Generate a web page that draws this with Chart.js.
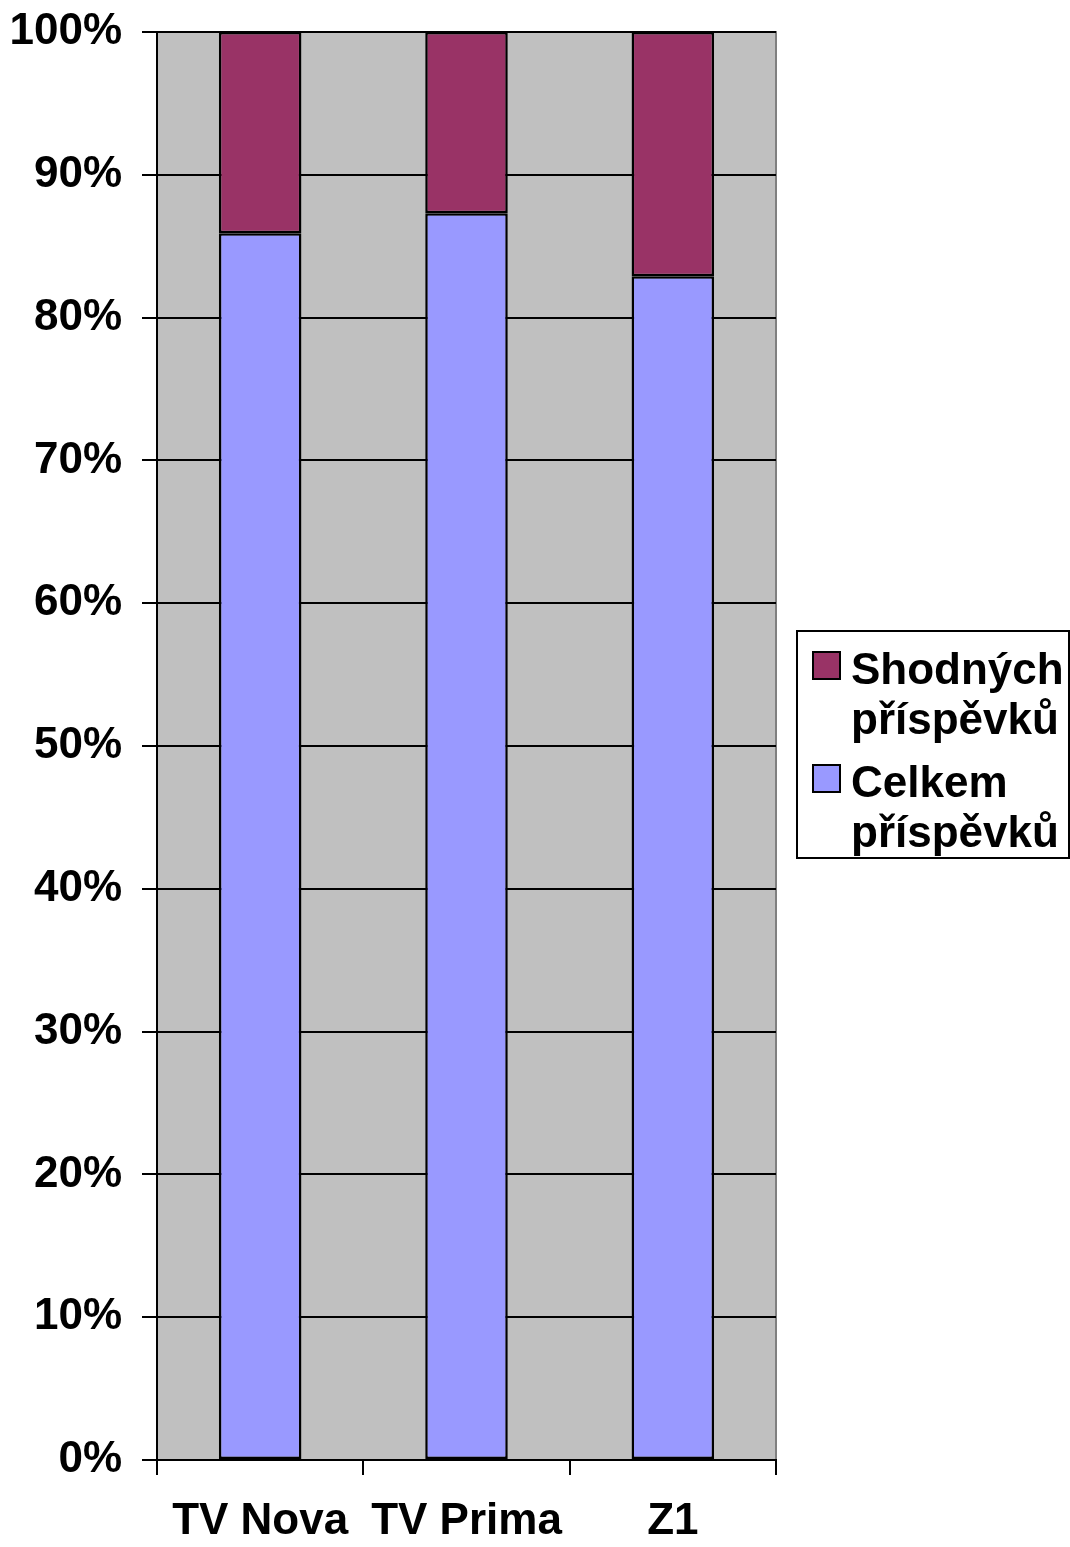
<!DOCTYPE html>
<html><head><meta charset="utf-8">
<script src="https://cdn.jsdelivr.net/npm/chart.js@4.4.1/dist/chart.umd.min.js"></script>
<style>html,body{margin:0;padding:0;background:#fff;}#wrap{width:1070px;height:1547px;}</style>
</head><body><div id="wrap"><canvas id="c" width="1070" height="1547"></canvas></div>
<script>
const categories = ["TV Nova", "TV Prima", "Z1"];
const seriesNames = ["Celkem příspěvků", "Shodných příspěvků"];
const celkem = [85.9, 87.3, 82.9];
const shodnych = [14.1, 12.7, 17.1];
const yTicks = [0,10,20,30,40,50,60,70,80,90,100];
const colors = ["#9999FF", "#993366"];
const FONT = "'Liberation Sans', Arial, sans-serif";

const bgPlugin = {
  id: 'bg',
  beforeDraw(chart) {
    const {ctx, chartArea: a} = chart;
    ctx.save();
    ctx.fillStyle = '#C0C0C0';
    ctx.fillRect(a.left, a.top, a.right - a.left, a.bottom - a.top);
    ctx.strokeStyle = '#808080';
    ctx.lineWidth = 2;
    ctx.beginPath();
    ctx.moveTo(a.left, a.top); ctx.lineTo(a.right, a.top); ctx.lineTo(a.right, a.bottom);
    ctx.stroke();
    ctx.restore();
  },
  afterDraw(chart) {
    const ctx = chart.ctx;
    ctx.save();
    const bx = 797, by = 631, bw = 272, bh = 227;
    ctx.fillStyle = '#fff';
    ctx.fillRect(bx, by, bw, bh);
    ctx.strokeStyle = '#000';
    ctx.lineWidth = 2;
    ctx.strokeRect(bx, by, bw, bh);
    ctx.font = 'bold 44px ' + FONT;
    ctx.textBaseline = 'alphabetic';
    ctx.textAlign = 'left';
    const ds = chart.data.datasets.slice().reverse();
    const baselines = [[684, 734], [797, 847]];
    ds.forEach((d, i) => {
      const b = baselines[i];
      ctx.fillStyle = d.backgroundColor;
      ctx.fillRect(813, b[0] - 32, 27, 27);
      ctx.strokeStyle = '#000';
      ctx.lineWidth = 2;
      ctx.strokeRect(813, b[0] - 32, 27, 27);
      ctx.fillStyle = '#000';
      const parts = d.label.split(' ');
      parts.forEach((p, j) => ctx.fillText(p, 851, b[j]));
    });
    ctx.restore();
  }
};

new Chart(document.getElementById('c'), {
  type: 'bar',
  data: {
    labels: categories,
    datasets: [
      {label: seriesNames[0], data: celkem, backgroundColor: colors[0], borderColor: '#000', borderWidth: 2.5, borderSkipped: false},
      {label: seriesNames[1], data: shodnych, backgroundColor: colors[1], borderColor: '#000', borderWidth: 2.5, borderSkipped: false}
    ]
  },
  options: {
    responsive: false,
    animation: false,
    devicePixelRatio: 1,
    layout: {padding: {top: 32, right: 294, left: 0, bottom: 0}},
    datasets: {bar: {barPercentage: 0.4, categoryPercentage: 1.0}},
    plugins: {legend: {display: false}, tooltip: {enabled: false}},
    scales: {
      x: {
        stacked: true,
        grid: {display: true, drawOnChartArea: false, drawTicks: true, tickLength: 15, color: '#000', lineWidth: 2, offset: true},
        border: {display: true, color: '#000', width: 2},
        ticks: {color: '#000', padding: 20, font: {family: FONT, size: 44, weight: 'bold'}, maxRotation: 0},
        afterFit(s) { s.height = 87; s.paddingLeft = 0; s.paddingRight = 0; }
      },
      y: {
        stacked: true,
        min: 0, max: 100,
        afterBuildTicks(s) { s.ticks = yTicks.map(v => ({value: v})); },
        grid: {color: '#000', lineWidth: 2, drawTicks: true, tickLength: 15},
        border: {display: true, color: '#000', width: 2},
        ticks: {color: '#000', padding: 20, font: {family: FONT, size: 44, weight: 'bold'}, callback: v => v + '%'},
        afterFit(s) { s.width = 157; s.paddingTop = 0; s.paddingBottom = 0; }
      }
    }
  },
  plugins: [bgPlugin]
});
</script></body></html>
